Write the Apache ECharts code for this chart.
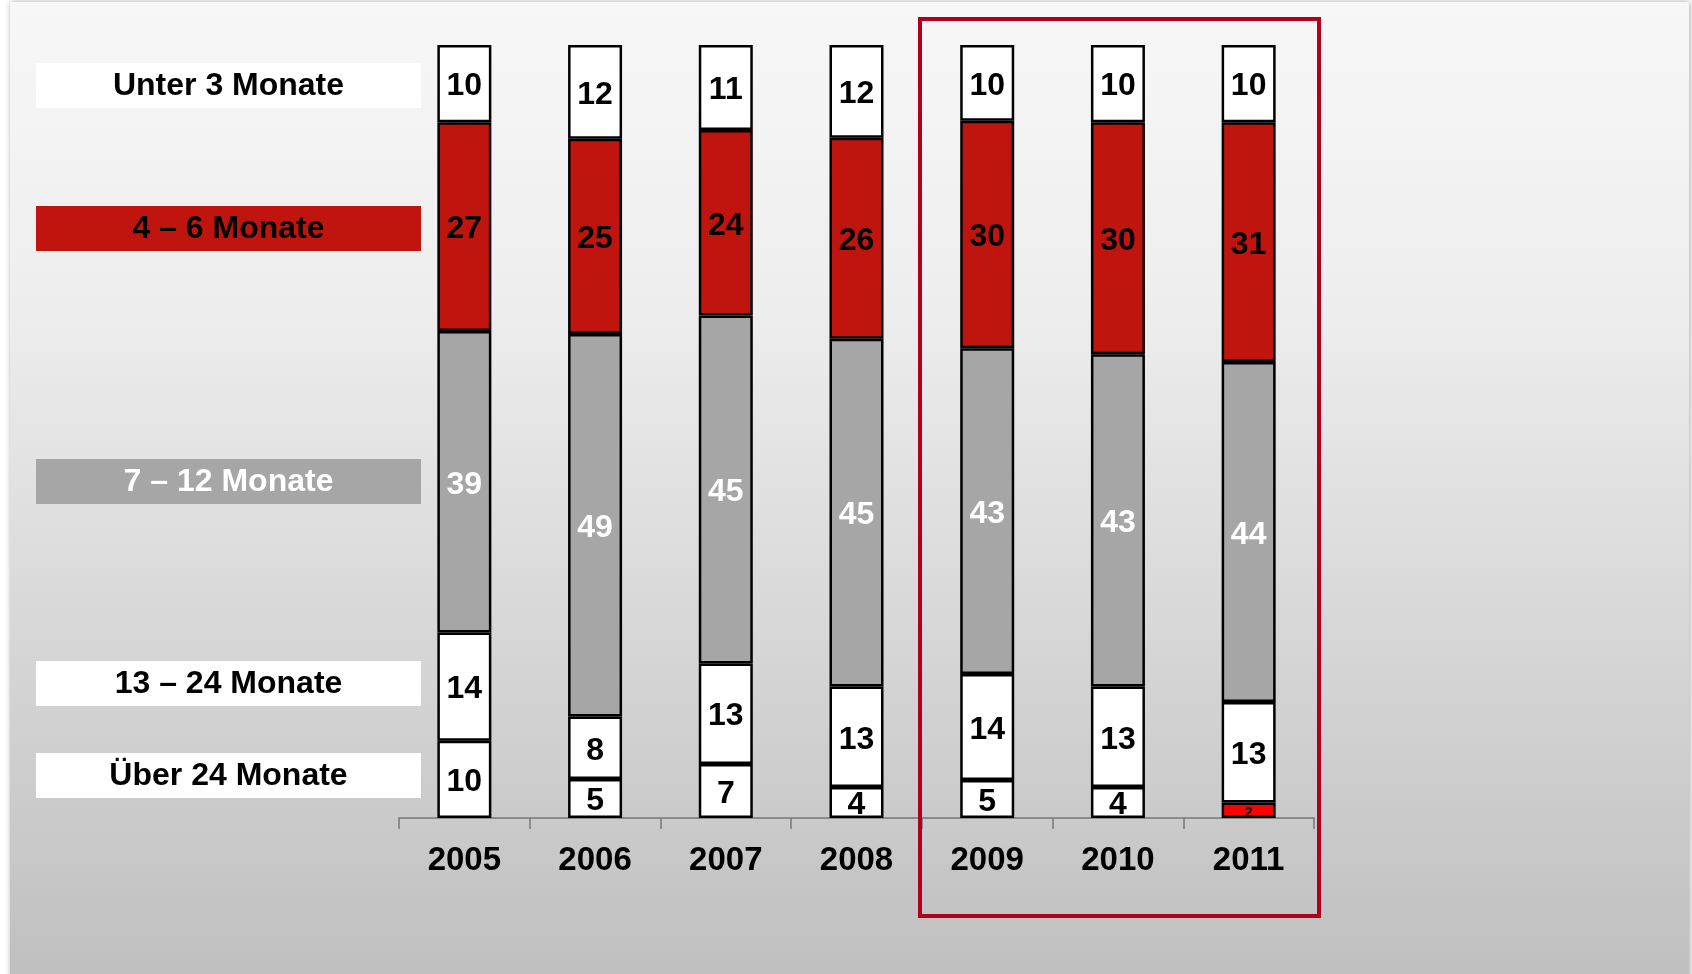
<!DOCTYPE html>
<html>
<head>
<meta charset="utf-8">
<script src="https://cdn.jsdelivr.net/npm/echarts@6/dist/echarts.min.js"></script>
<style>
html,body{margin:0;padding:0;background:#ffffff;}
#chart{width:1692px;height:974px;}
</style>
</head>
<body>
<div id="chart"></div>
<script>
// ---- data ----
var categories = ['2005', '2006', '2007', '2008', '2009', '2010', '2011'];
var ueber24Monate = [10, 5, 7, 4, 5, 4, 2];
var monate13bis24 = [14, 8, 13, 13, 14, 13, 13];
var monate7bis12 = [39, 49, 45, 45, 43, 43, 44];
var monate4bis6 = [27, 25, 24, 26, 30, 30, 31];
var unter3Monate = [10, 12, 11, 12, 10, 10, 10];
var seriesNames = ['Über 24 Monate', '13 – 24 Monate', '7 – 12 Monate', '4 – 6 Monate', 'Unter 3 Monate'];

var raw = [ueber24Monate, monate13bis24, monate7bis12, monate4bis6, unter3Monate];
var totals = categories.map(function (c, i) {
  return raw.reduce(function (s, arr) { return s + arr[i]; }, 0);
});

var FONT = "'Liberation Sans', Arial, sans-serif";
var RED = '#c0150f';
var GRAY = '#a6a6a6';
var fills = ['#ffffff', '#ffffff', GRAY, RED, '#ffffff'];
var textColors = ['#000000', '#000000', '#ffffff', '#000000', '#000000'];

var series = raw.map(function (arr, si) {
  return {
    name: seriesNames[si],
    type: 'bar',
    stack: 'total',
    barWidth: 54,
    itemStyle: { color: fills[si], borderColor: '#000000', borderWidth: 2.5 },
    label: {
      show: true,
      position: 'inside',
      offset: [0, 3],
      fontFamily: FONT,
      fontWeight: 'bold',
      fontSize: 32,
      color: textColors[si],
      formatter: function (p) { return raw[p.seriesIndex][p.dataIndex]; }
    },
    data: arr.map(function (v, i) {
      var item = { value: v / totals[i] * 100 };
      if (si === 0 && categories[i] === '2011') {
        item.itemStyle = { color: '#ff0000' };
        item.label = { fontSize: 14, offset: [0, 3] };
      }
      return item;
    })
  };
});

// legend-like labels on the left
var legendBoxes = [
  { text: 'Unter 3 Monate', y: 63, fill: '#ffffff', color: '#000000' },
  { text: '4 – 6 Monate', y: 206, fill: RED, color: '#000000' },
  { text: '7 – 12 Monate', y: 459, fill: GRAY, color: '#ffffff' },
  { text: '13 – 24 Monate', y: 661, fill: '#ffffff', color: '#000000' },
  { text: 'Über 24 Monate', y: 753, fill: '#ffffff', color: '#000000' }
];
var graphics = [
  {
    type: 'rect', z: -10, silent: true,
    shape: { x: 10, y: 2, width: 1679, height: 980 },
    style: {
      fill: new echarts.graphic.LinearGradient(0, 0, 0, 1, [
        { offset: 0, color: '#f7f7f7' },
        { offset: 0.3, color: '#eeeeee' },
        { offset: 1, color: '#bfbfbf' }
      ]),
      shadowBlur: 6, shadowColor: 'rgba(0,0,0,0.35)', shadowOffsetX: 1
    }
  }
];
legendBoxes.forEach(function (b) {
  graphics.push({
    type: 'group', z: 5,
    children: [
      { type: 'rect', shape: { x: 36, y: b.y, width: 385, height: 45 }, style: { fill: b.fill } },
      {
        type: 'text', x: 228.5, y: b.y + 23,
        style: {
          text: b.text, fill: b.color, font: 'bold 32px ' + FONT,
          textAlign: 'center', textVerticalAlign: 'middle'
        }
      }
    ]
  });
});
graphics.push({
  type: 'rect', z: 20, silent: true,
  shape: { x: 920, y: 19, width: 399, height: 897 },
  style: { fill: 'none', stroke: '#b0001e', lineWidth: 4 }
});

var chart = echarts.init(document.getElementById('chart'));
chart.setOption({
  animation: false,
  backgroundColor: 'transparent',
  grid: { left: 399, right: 378, top: 45, bottom: 156 },
  xAxis: {
    type: 'category',
    data: categories,
    axisLine: { lineStyle: { color: '#777777', width: 1.5 } },
    axisTick: { show: true, length: 11, lineStyle: { color: '#777777', width: 1.5 } },
    axisLabel: { fontFamily: FONT, fontWeight: 'bold', fontSize: 33, color: '#000000', margin: 26 }
  },
  yAxis: { type: 'value', min: 0, max: 100, show: false },
  series: series,
  graphic: graphics
});
</script>
</body>
</html>
